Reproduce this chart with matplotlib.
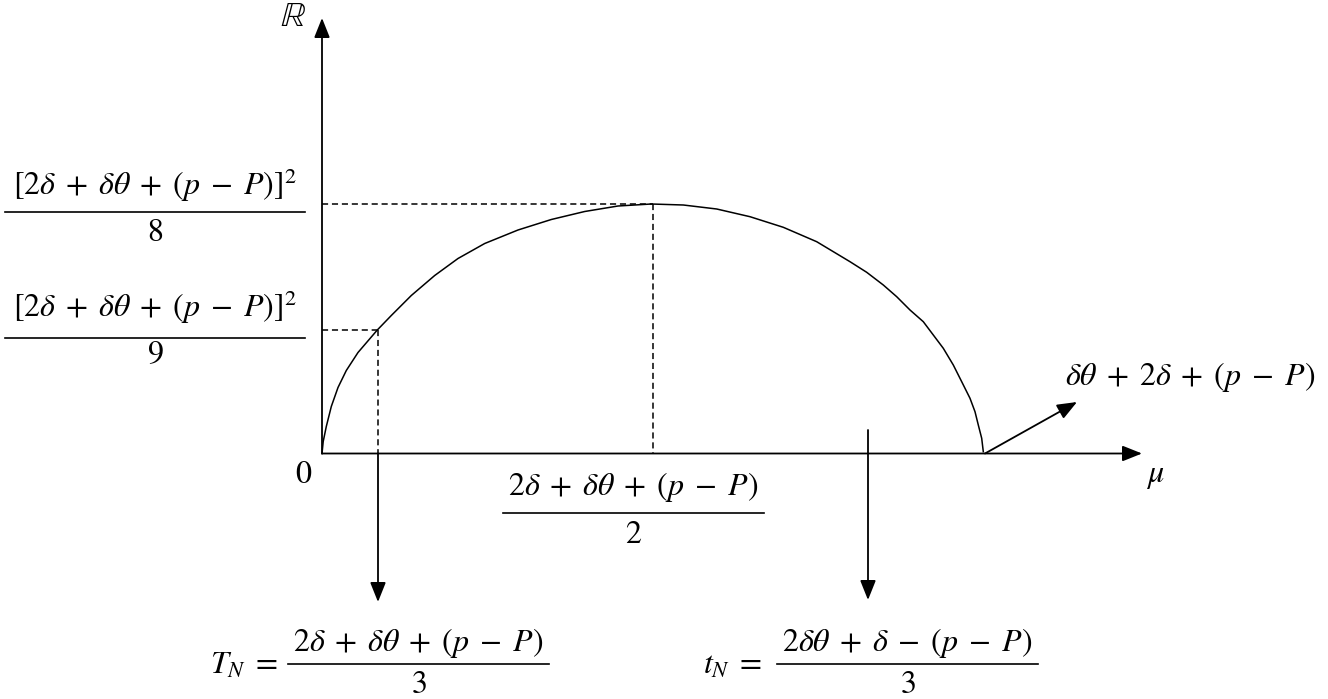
import numpy as np
import matplotlib
matplotlib.use("Agg")
import matplotlib.pyplot as plt

plt.rcParams['mathtext.fontset'] = 'stix'
plt.rcParams['font.family'] = 'STIXGeneral'

# curve (mu, R) in diagram units
mu_pts = [0, 1.2, 4.3, 9.3, 16, 24.3, 36, 55.3, 69.3, 89.3, 112.7, 136, 162.7, 196,
          229.3, 262.7, 296, 329.3, 361.3, 394.7, 428, 461.3, 494.7, 528, 544.7,
          561.3, 574.7, 588, 601.3, 611.3, 621.3, 631.3, 639.7, 648, 653, 656.3,
          659.7, 661.3]
r_pts = [0, 12, 27, 47, 66, 83, 101, 123.5, 138, 158, 178, 195, 210, 223.5,
         234, 242, 247.5, 249.5, 248.5, 244.5, 236.8, 226.2, 211.8, 191.8, 181.2,
         168.5, 156.8, 143.5, 131.8, 118.5, 105.2, 88.5, 71.8, 55.2, 41.8, 28.5,
         15.2, 1.8]

mu_peak = 331      # (2δ+δθ+(p-P))/2
r_peak = 249.5     # [..]^2/8
mu_T = 56          # T_N
r_T = 123.5        # [..]^2/9
mu_t = 546         # t_N
mu_end = 663       # δθ+2δ+(p-P)

num = r'$2\delta\;+\;\delta\theta\;+\;(p\;-\;P)$'
num_sq = r'$[2\delta\;+\;\delta\theta\;+\;(p\;-\;P)]^2$'
num_t = r'$2\delta\theta\;+\;\delta\;-\;(p\;-\;P)$'
end_label = r'$\delta\theta\;+\;2\delta\;+\;(p\;-\;P)$'

fig = plt.figure(figsize=(13.28, 6.99), dpi=100)
ax = fig.add_axes([0, 0, 1, 1])
ax.set_xlim(-322, 1006)
ax.set_ylim(-245.5, 453.5)
ax.axis('off')

fs = 23
arw = dict(arrowstyle='-|>,head_length=0.75,head_width=0.3', color='black',
           lw=1.3, shrinkA=0, shrinkB=0, mutation_scale=16)

# axes
ax.annotate('', xy=(0, 435.5), xytext=(0, 0), arrowprops=arw)
ax.annotate('', xy=(820, 0), xytext=(0, 0), arrowprops=arw)
ax.text(-29, 436, r'$\mathbb{R}$', fontsize=25, ha='center', va='center')
ax.text(-18, -21.5, r'$0$', fontsize=fs, ha='center', va='center')
ax.text(833, -22.5, r'$\mu$', fontsize=fs, ha='center', va='center')

# curve
ax.plot(mu_pts, r_pts, color='black', lw=1.1)

# dashed guides
dash = dict(color='black', lw=1.1, linestyle=(0, (4, 2.5)))
ax.plot([0, mu_peak], [r_peak, r_peak], **dash)
ax.plot([mu_peak, mu_peak], [r_peak, 0], **dash)
ax.plot([0, mu_T], [r_T, r_T], **dash)
ax.plot([mu_T, mu_T], [r_T, 0], **dash)

# down arrows to labels
ax.annotate('', xy=(mu_T, -148.5), xytext=(mu_T, 0), arrowprops=arw)
ax.annotate('', xy=(mu_t, -146.5), xytext=(mu_t, 23.5), arrowprops=arw)
ax.annotate('', xy=(755, 51.5), xytext=(mu_end, 0), arrowprops=arw)
ax.text(743, 76.5, end_label, fontsize=fs, ha='left', va='center')


def frac(xc, y_bar, x0, x1, top, bottom, dy_top, dy_bot):
    ax.plot([x0, x1], [y_bar, y_bar], color='black', lw=1.2)
    ax.text(xc, y_bar + dy_top, top, fontsize=fs, ha='center', va='center')
    ax.text(xc, y_bar - dy_bot, bottom, fontsize=fs, ha='center', va='center')


# left value labels
frac(-167, 241.5, -317, -17, num_sq, r'$8$', 27, 21)
frac(-167, 115.5, -317, -17, num_sq, r'$9$', 31, 17)

# peak position label
frac(311.5, -59.5, 181, 442, num, r'$2$', 26, 22)

# T_N and t_N
frac(96.5, -210.5, -34, 227, num, r'$3$', 21, 21)
ax.text(-78, -213, r'$T_N\;=$', fontsize=fs, ha='center', va='center')
frac(585.5, -210.5, 455, 716, num_t, r'$3$', 21, 21)
ax.text(410, -213, r'$t_N\;=$', fontsize=fs, ha='center', va='center')

fig.savefig('out.png', dpi=100, facecolor='white')
